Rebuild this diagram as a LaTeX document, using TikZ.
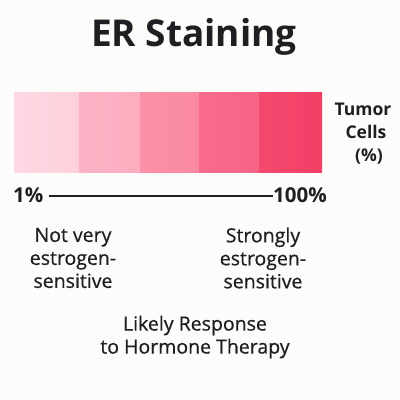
\documentclass[tikz,border=0pt]{standalone}
\usepackage{fontspec}
\setmainfont{Open Sans}
\newfontfamily\medfont{Open Sans}[FakeBold=0.6]
\definecolor{bg}{HTML}{FCFCFB}
\definecolor{ink}{HTML}{1E1F22}
\definecolor{sA}{HTML}{FDD0DC}
\definecolor{sAl}{HTML}{FDD8E2}
\definecolor{sB}{HTML}{FCADC0}
\definecolor{sBl}{HTML}{FCB3C5}
\definecolor{sC}{HTML}{FA8AA2}
\definecolor{sCl}{HTML}{FA90A7}
\definecolor{sD}{HTML}{F76485}
\definecolor{sDl}{HTML}{F86B8B}
\definecolor{sE}{HTML}{F23F66}
\definecolor{sEl}{HTML}{F4496E}
\begin{document}
\begin{tikzpicture}[x=1pt,y=-1pt,
  lbl/.style={text=ink,font=\medfont\fontsize{19.5}{23}\selectfont,align=center,inner sep=0pt},
  seg/.style={draw=none}]
\useasboundingbox (0,0) rectangle (400,400);
\fill[bg] (0,0) rectangle (400,400);
\node[text=ink,font=\fontsize{37}{40}\selectfont\bfseries,inner sep=0pt] (title) at (194,37) {ER Staining};
\shade[left color=sAl,right color=sA] (14,92) rectangle (79,172);
\shade[left color=sBl,right color=sB] (79,92) rectangle (140,172);
\shade[left color=sCl,right color=sC] (140,92) rectangle (199,172);
\shade[left color=sDl,right color=sD] (199,92) rectangle (259,172);
\shade[left color=sEl,right color=sE] (259,92) rectangle (322,172);
\node[lbl,font=\fontsize{17.5}{23}\selectfont\bfseries] (tc) at (363,134) {Tumor\\\hspace*{6pt}Cells\\\hspace*{12pt}(\%)};
\node[lbl,font=\fontsize{20.5}{24}\selectfont\bfseries,anchor=west] (lo) at (13,195) {1\%};
\node[lbl,font=\fontsize{20.5}{24}\selectfont\bfseries,anchor=east] (hi) at (327,195) {100\%};
\draw[ink,line width=1.8pt] (lo.east) ++(5,1) coordinate (la) -- (la -| hi.west) ++(-4,0) coordinate (lb);
\node[lbl] (nv) at (73,258) {Not very\\estrogen-\\sensitive};
\node[lbl] (st) at (263,258) {Strongly\\estrogen-\\sensitive};
\node[lbl] (lr) at (195,337) {Likely Response\\to Hormone Therapy};
\end{tikzpicture}
\end{document}
